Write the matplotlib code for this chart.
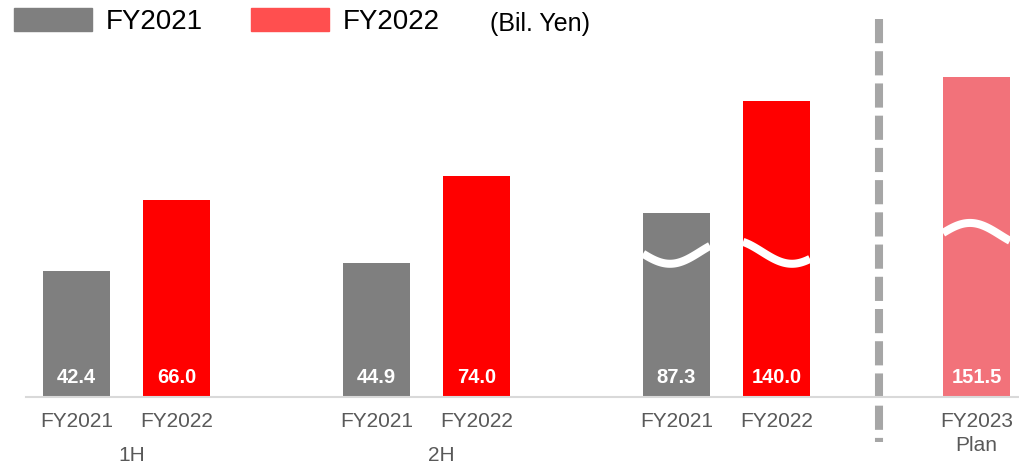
import numpy as np
import matplotlib
matplotlib.use("Agg")
from matplotlib import pyplot as plt
from matplotlib.patches import Patch

plt.rcParams['font.family'] = ['Liberation Sans', 'DejaVu Sans']

# ------------------------------
# Data
# ------------------------------
tick_labels = ['FY2021', 'FY2022', 'FY2021', 'FY2022', 'FY2021', 'FY2022', 'FY2023\nPlan']
values = [42.4, 66.0, 44.9, 74.0, 87.3, 140.0, 151.5]
# full-year bars are drawn on a broken (shortened) scale
display_heights = [42.4, 66.0, 44.9, 74.0, 61.7, 99.3, 107.4]
positions = [0, 1, 3, 4, 6, 7, 9]
bar_colors = ['#7f7f7f', '#ff0000', '#7f7f7f', '#ff0000', '#7f7f7f', '#ff0000', '#f2727a']
broken = [False, False, False, False, True, True, True]
groups = ['1H', '2H']
group_x = [0.55, 3.65]

# ------------------------------
# Figure
# ------------------------------
W, H = 1020, 463
fig = plt.figure(figsize=(W / 100, H / 100), dpi=100)
ax = fig.add_axes([26 / W, 66 / H, (W - 26) / W, 397 / H])

ax.bar(positions, display_heights, width=0.67, color=bar_colors, zorder=2)

ax.set_xlim(-0.505, 9.435)
ax.set_ylim(0, 133.2)

# value labels inside bars
for x, v in zip(positions, values):
    ax.text(x, 6.7, f'{v:.1f}', ha='center', va='center', color='white',
            fontsize=14.5, fontweight='bold', zorder=4)

# wavy break marks on the full-year bars: (centre, sign, phase)
wave_params = {6: (48.7, 1, 5.935), 7: (48.7, 1, 7.155), 9: (54.4, -1, 8.935)}
for x, b in zip(positions, broken):
    if not b:
        continue
    c, sign, ph = wave_params[x]
    xs = np.linspace(x - 0.335, x + 0.335, 80)
    ys = c - sign * 4.0 * np.cos(2 * np.pi * (xs - ph) / 1.2)
    ax.plot(xs, ys, color='white', lw=5.8, solid_capstyle='butt', zorder=3)

# separator between actuals and plan
ax.plot([8.025, 8.025], [126.8, -15.1], color='#a6a6a6', lw=5.8,
        dashes=(3.0, 1.0), clip_on=False, zorder=1)

# axes styling
for s in ['top', 'left', 'right']:
    ax.spines[s].set_visible(False)
ax.spines['bottom'].set_color('#d9d9d9')
ax.spines['bottom'].set_linewidth(1.5)
ax.set_yticks([])
ax.set_xticks(positions)
ax.set_xticklabels(tick_labels, fontsize=15, color='#595959', linespacing=1.3)
ax.tick_params(axis='x', length=0, pad=11)

for gx, g in zip(group_x, groups):
    ax.text(gx, -19.5, g, ha='center', va='center', fontsize=15, color='#595959',
            clip_on=False)

# legend
handles = [Patch(color='#7f7f7f', label='FY2021'), Patch(color='#ff4f4f', label='FY2022')]
fig.legend(handles=handles, loc='upper left', bbox_to_anchor=(14 / W, 1 - 8 / H),
           ncol=2, frameon=False, fontsize=20, handlelength=2.8, handleheight=0.9,
           handletextpad=0.5, columnspacing=1.75, borderpad=0, borderaxespad=0)
fig.text(490 / W, 1 - 24 / H, '(Bil. Yen)', fontsize=18, ha='left', va='center')

fig.savefig('out.png', dpi=100)
